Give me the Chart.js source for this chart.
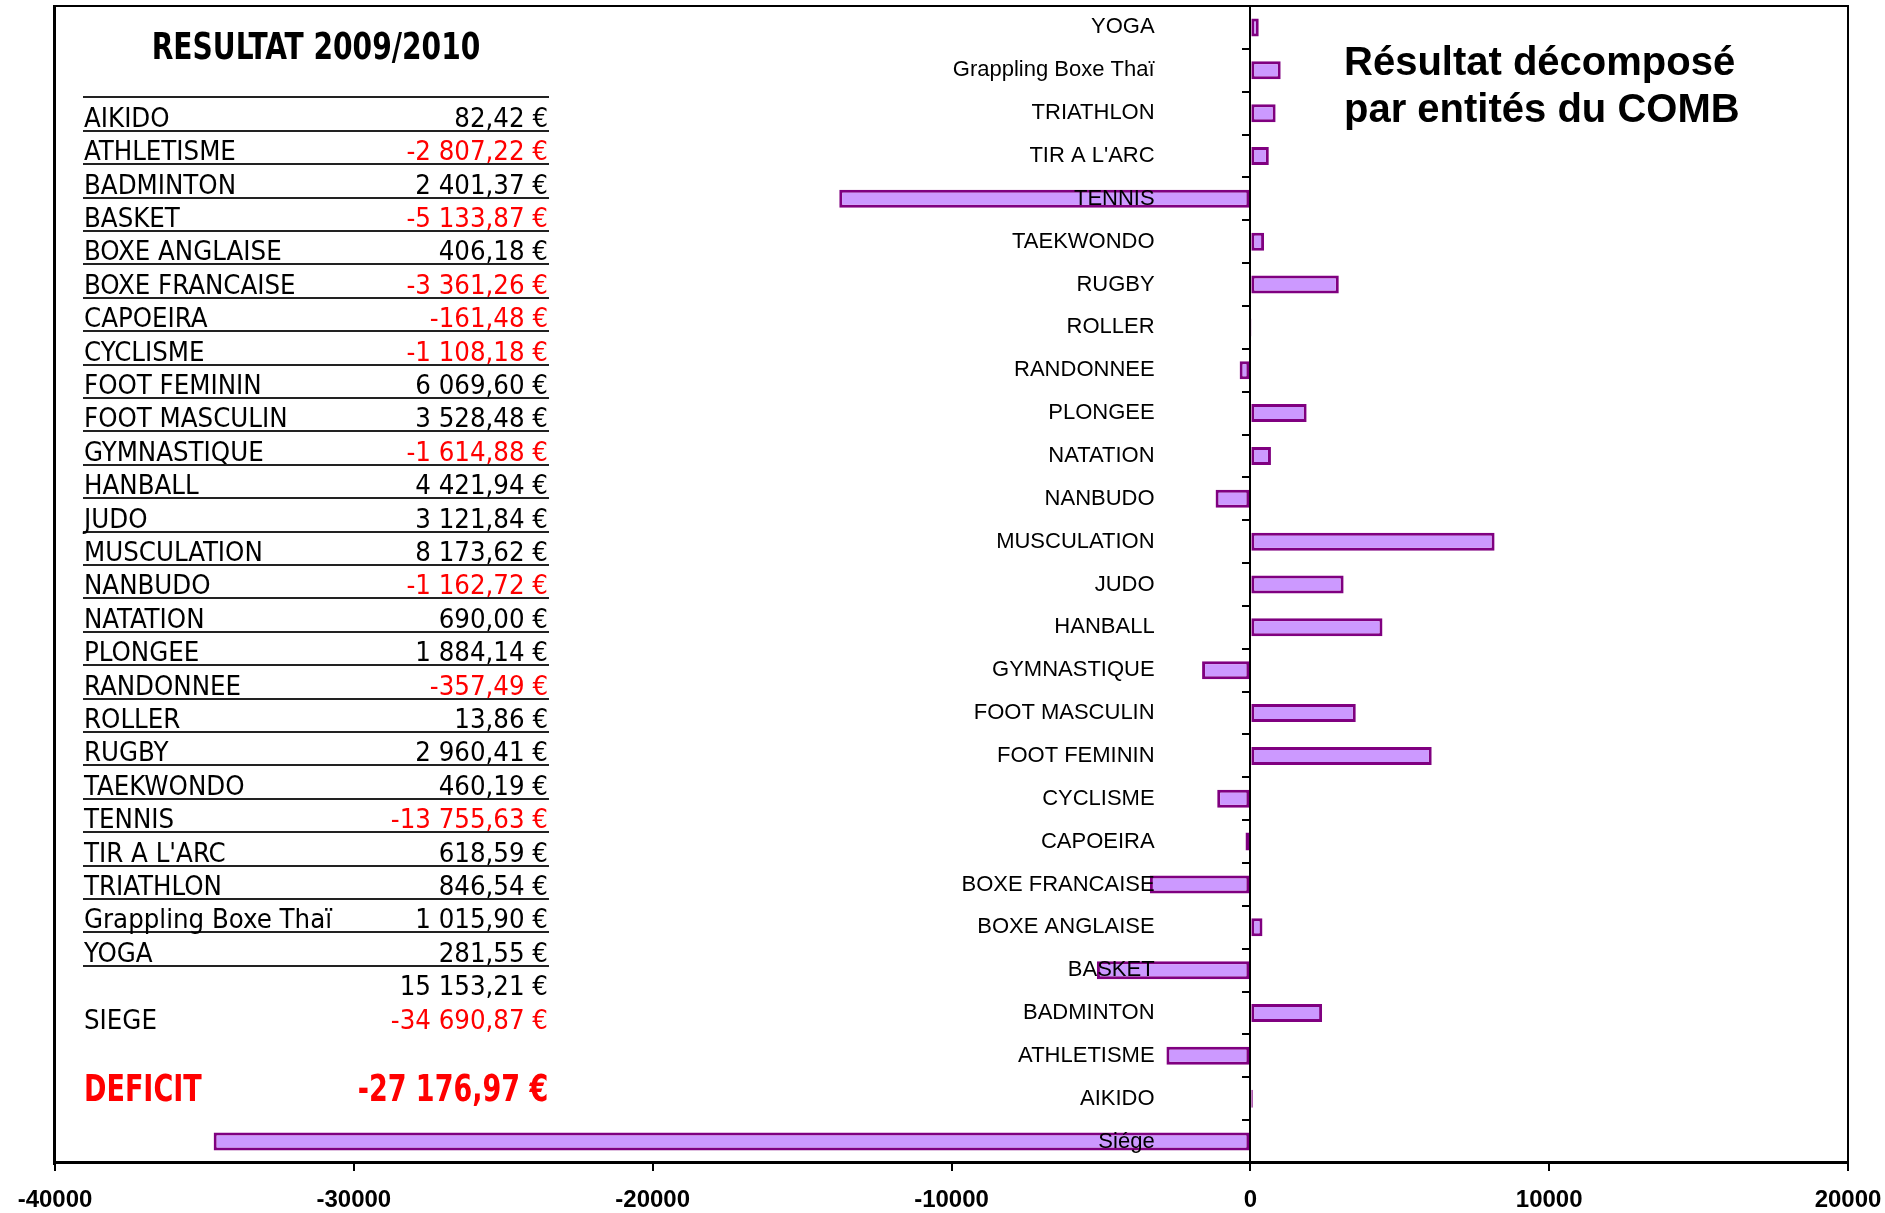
<!DOCTYPE html>
<html lang="fr">
<head>
<meta charset="utf-8">
<title>Résultat 2009/2010</title>
<script src="https://cdn.jsdelivr.net/npm/chart.js@4.4.1/dist/chart.umd.min.js"></script>
<style>
  html, body { margin: 0; padding: 0; background: #fff; }
  #page { position: relative; width: 1885px; height: 1213px; overflow: hidden; }
  #graphique { position: absolute; left: 0; top: 0; }
  .txt { position: absolute; white-space: pre; color: #000; }
  .etroit { font-family: "DejaVu Sans Condensed", "DejaVu Sans", sans-serif; font-stretch: condensed; }
  .ligne { position: absolute; height: 2px; background: #222; }
</style>
</head>
<body>
<div id="page">
  <canvas id="graphique" width="1885" height="1213"></canvas>
  <div id="tableau"></div>
</div>
<script>
// Résultats par section (ordre du tableau)
const sections = ['AIKIDO', 'ATHLETISME', 'BADMINTON', 'BASKET', 'BOXE ANGLAISE', 'BOXE FRANCAISE',
  'CAPOEIRA', 'CYCLISME', 'FOOT FEMININ', 'FOOT MASCULIN', 'GYMNASTIQUE', 'HANBALL', 'JUDO',
  'MUSCULATION', 'NANBUDO', 'NATATION', 'PLONGEE', 'RANDONNEE', 'ROLLER', 'RUGBY', 'TAEKWONDO',
  'TENNIS', "TIR A L'ARC", 'TRIATHLON', 'Grappling Boxe Thaï', 'YOGA'];
const resultats = [82.42, -2807.22, 2401.37, -5133.87, 406.18, -3361.26,
  -161.48, -1108.18, 6069.60, 3528.48, -1614.88, 4421.94, 3121.84,
  8173.62, -1162.72, 690.00, 1884.14, -357.49, 13.86, 2960.41, 460.19,
  -13755.63, 618.59, 846.54, 1015.90, 281.55];

const siegeGraphique = 'Siége';
const siegeTableau = 'SIEGE';
const siegeResultat = -34690.87;
const sousTotal = 15153.21;
const deficit = -27176.97;

// Axe des valeurs
const xMin = -40000;
const xMax = 20000;
const xPas = 10000;

const titreTableau = 'RESULTAT 2009/2010';
const titreGraphique = ['Résultat décomposé', 'par entités du COMB'];

// libellés et valeurs du graphique (Siége en bas)
const libelles = [siegeGraphique].concat(sections);
const valeurs = [siegeResultat].concat(resultats);

function formatEuro(v) {
  let neg = v < 0;
  let p = Math.abs(v).toFixed(2).split('.');
  let ent = p[0].replace(/\B(?=(\d{3})+(?!\d))/g, '\u00a0');
  return (neg ? '-' : '') + ent + ',' + p[1] + '\u00a0€';
}

// --- tableau de gauche ---
const tableau = document.getElementById('tableau');

function texte(contenu, x, base, taille, opts) {
  opts = opts || {};
  let d = document.createElement('div');
  d.className = 'txt' + (opts.etroit ? ' etroit' : '');
  d.textContent = contenu;
  d.style.fontSize = taille + 'px';
  d.style.lineHeight = taille + 'px';
  d.style.top = (base - 0.8465 * taille) + 'px';
  if (opts.bold) d.style.fontWeight = 'bold';
  if (opts.couleur) d.style.color = opts.couleur;
  if (!opts.etroit) d.style.fontFamily = '"Liberation Sans", Arial, sans-serif';
  if (opts.align === 'right') {
    d.style.right = (1885 - x) + 'px';
    d.style.transformOrigin = 'right center';
  } else if (opts.align === 'center') {
    d.style.left = (x - 400) + 'px';
    d.style.width = '800px';
    d.style.textAlign = 'center';
    d.style.transformOrigin = 'center center';
  } else {
    d.style.left = x + 'px';
    d.style.transformOrigin = 'left center';
  }
  if (opts.serre) d.style.transform = 'scaleX(' + opts.serre + ')';
  tableau.appendChild(d);
}

const tabGauche = 83;
const tabDroite = 549;
const tabHaut = 97.3;
const hauteurLigne = 33.4;
const taillePolice = 27.3;

texte(titreTableau, 316, 59, 37, {bold: true, etroit: true, align: 'center', serre: 0.845});

for (let k = 0; k <= sections.length; k++) {
  let l = document.createElement('div');
  l.className = 'ligne';
  l.style.left = tabGauche + 'px';
  l.style.width = (tabDroite - tabGauche) + 'px';
  l.style.top = (tabHaut + k * hauteurLigne - 1) + 'px';
  tableau.appendChild(l);
}

sections.forEach(function(nom, i) {
  let base = tabHaut + i * hauteurLigne + 29.7;
  let v = resultats[i];
  texte(nom, tabGauche + 1, base, taillePolice, {etroit: true});
  texte(formatEuro(v), tabDroite - 1, base, taillePolice,
    {etroit: true, align: 'right', couleur: v < 0 ? '#ff0000' : '#000'});
});

let baseTotal = tabHaut + sections.length * hauteurLigne + 29.7;
texte(formatEuro(sousTotal), tabDroite - 1, baseTotal, taillePolice, {etroit: true, align: 'right'});
texte(siegeTableau, tabGauche + 1, baseTotal + hauteurLigne, taillePolice, {etroit: true});
texte(formatEuro(siegeResultat), tabDroite - 1, baseTotal + hauteurLigne, taillePolice,
  {etroit: true, align: 'right', couleur: '#ff0000'});

texte('DEFICIT', tabGauche + 1, 1101, 38, {etroit: true, bold: true, couleur: '#ff0000', serre: 0.79});
texte(formatEuro(deficit), tabDroite - 1, 1101, 38,
  {etroit: true, bold: true, align: 'right', couleur: '#ff0000', serre: 0.79});

// titre à droite
texte(titreGraphique[0], 1344, 75, 40, {bold: true});
texte(titreGraphique[1], 1344, 122, 40, {bold: true});

// --- graphique ---
// cadre noir autour de la zone de tracé
const cadre = {
  id: 'cadre',
  afterDraw(chart) {
    const ctx = chart.ctx;
    const a = chart.chartArea;
    ctx.save();
    ctx.fillStyle = '#000';
    ctx.fillRect(a.left - 2, a.top - 1, 3, a.bottom - a.top + 3);
    ctx.fillRect(a.left - 2, a.top - 1, a.right - a.left + 3, 2);
    ctx.fillRect(a.right - 1, a.top - 1, 2, a.bottom - a.top + 3);
    ctx.fillRect(a.left - 2, a.bottom - 2, a.right - a.left + 3, 3);
    ctx.restore();
  }
};

function sansMarges(s) {
  s.paddingLeft = 0;
  s.paddingRight = 0;
  s.paddingTop = 0;
  s.paddingBottom = 0;
}

// valeur x où s'alignent à droite les libellés
const xLibelles = -3203;

var ctx = document.getElementById('graphique').getContext('2d');
var graphique = new Chart(ctx, {
  type: 'bar',
  data: {
    labels: libelles,
    datasets: [{
      label: 'Résultat',
      data: valeurs,
      backgroundColor: '#cc99ff',
      borderColor: '#800080',
      borderWidth: 3,
      borderSkipped: false,
      barPercentage: 0.42,
      categoryPercentage: 1.0,
      xAxisID: 'x',
      yAxisID: 'y'
    }]
  },
  options: {
    indexAxis: 'y',
    responsive: false,
    animation: { duration: 0 },
    layout: { padding: { left: 55, right: 37, top: 6, bottom: 0 } },
    plugins: {
      legend: { display: false },
      tooltip: { enabled: false }
    },
    scales: {
      x: {
        type: 'linear',
        position: 'bottom',
        min: xMin,
        max: xMax,
        afterFit: function(s) { sansMarges(s); s.height = 50; },
        ticks: {
          stepSize: xPas,
          padding: 15,
          color: '#000',
          font: { family: '"Liberation Sans", Arial, sans-serif', size: 24, weight: 'bold' },
          maxRotation: 0,
          callback: function(v) { return String(v); }
        },
        grid: { drawOnChartArea: false, drawTicks: true, tickLength: 8, color: '#000', lineWidth: 2 },
        border: { display: false }
      },
      y: {
        type: 'category',
        axis: 'y',
        position: { x: 0 },
        reverse: true,
        offset: true,
        afterFit: sansMarges,
        ticks: { display: false },
        grid: { offset: true, drawOnChartArea: false, drawTicks: true, tickLength: 7, color: '#000', lineWidth: 2 },
        border: { display: true, color: '#000', width: 2 }
      },
      yLib: {
        type: 'category',
        axis: 'y',
        position: { x: xLibelles },
        reverse: true,
        offset: true,
        afterFit: sansMarges,
        ticks: {
          z: 1,
          padding: 0,
          color: '#000',
          autoSkip: false,
          font: { family: '"Liberation Sans", Arial, sans-serif', size: 22 }
        },
        grid: { display: false, drawTicks: false },
        border: { display: false }
      }
    }
  },
  plugins: [cadre]
});
</script>
</body>
</html>
